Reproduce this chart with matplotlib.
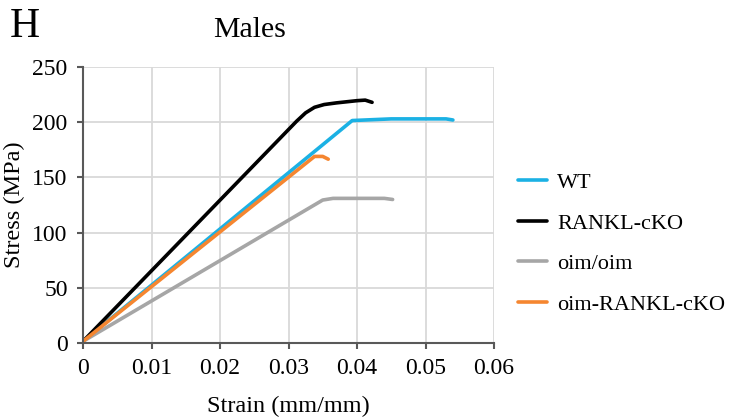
import matplotlib
matplotlib.use("Agg")
import matplotlib.pyplot as plt

plt.rcParams['font.family'] = ['Liberation Serif', 'DejaVu Serif']

# strain (mm/mm) / stress (MPa) points
wt_strain = [0.0, 0.0393, 0.045, 0.053, 0.054]
wt_stress = [1.5, 201.5, 203.0, 203.0, 202.0]

rankl_strain = [0.0, 0.0312, 0.0325, 0.0338, 0.0352, 0.0370, 0.040, 0.0412, 0.0422]
rankl_stress = [1.5, 201.0, 208.5, 213.5, 216.0, 217.5, 219.5, 220.0, 218.0]

oim_strain = [0.0, 0.0350, 0.0365, 0.044, 0.0452]
oim_stress = [1.5, 129.5, 131.0, 131.0, 130.0]

oimko_strain = [0.0, 0.0338, 0.0350, 0.0358]
oimko_stress = [1.5, 169.0, 169.0, 166.5]

series = [
    ("WT", wt_strain, wt_stress, "#1BB1E4"),
    ("RANKL-cKO", rankl_strain, rankl_stress, "#000000"),
    ("oim/oim", oim_strain, oim_stress, "#A6A6A6"),
    ("oim-RANKL-cKO", oimko_strain, oimko_stress, "#F58630"),
]

xticks = [0, 0.01, 0.02, 0.03, 0.04, 0.05, 0.06]
xlabels = ["0", "0.01", "0.02", "0.03", "0.04", "0.05", "0.06"]
yticks = [0, 50, 100, 150, 200, 250]

fig = plt.figure(figsize=(7.31, 4.18), dpi=100)
ax = fig.add_axes([83 / 731, 1 - 343 / 418, 411 / 731, 276 / 418])

for name, x, y, c in series:
    ax.plot(x, y, color=c, lw=2.6, label=name, solid_capstyle='round',
            solid_joinstyle='round')

ax.set_xlim(0, 0.06)
ax.set_ylim(0, 250)
ax.set_xticks(xticks)
ax.set_xticklabels(xlabels)
ax.set_yticks(yticks)
ax.grid(True, color="#D9D9D9", lw=1.3)
ax.set_axisbelow(True)

for s in ["top", "right"]:
    ax.spines[s].set_visible(False)
for s in ["left", "bottom"]:
    ax.spines[s].set_color("#595959")
    ax.spines[s].set_linewidth(1.5)
ax.tick_params(axis='both', direction='out', length=4, width=1.5,
               color="#595959", labelsize=17, pad=7)

ax.set_xlabel("Strain (mm/mm)", fontsize=17.5, labelpad=12)
ax.set_ylabel("Stress (MPa)", fontsize=17.5, labelpad=5)

fig.text(10 / 731, 1 - 27 / 418, "H", fontsize=30, va='center', ha='left')
fig.text(250 / 731, 1 - 30 / 418, "Males", fontsize=21.5, va='center', ha='center')

ax.legend(loc='center left', bbox_to_anchor=(1.01, 0.36), frameon=False,
          fontsize=16, handlelength=1.3, labelspacing=0.9, handletextpad=0.45)

fig.savefig("out.png", dpi=100)
